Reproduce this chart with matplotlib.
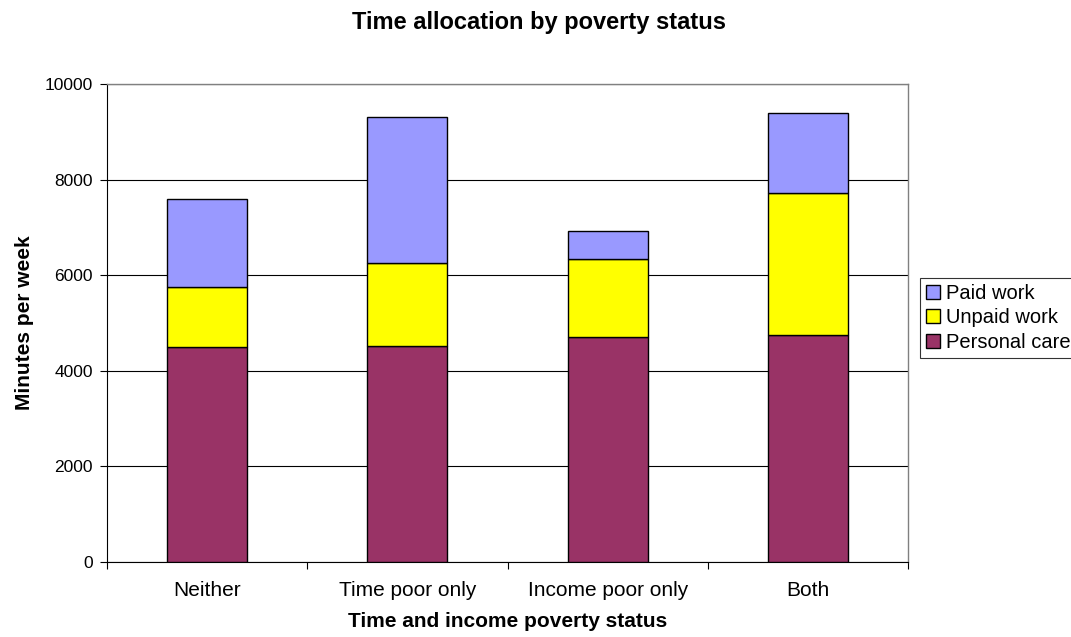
import matplotlib
matplotlib.use("Agg")
import matplotlib.pyplot as plt
import numpy as np

plt.rcParams['font.family'] = ['Liberation Sans', 'DejaVu Sans']

groups = ['Neither', 'Time poor only', 'Income poor only', 'Both']
personal_care = [4490, 4515, 4710, 4740]
unpaid_work = [1260, 1735, 1625, 2985]
paid_work = [1835, 3055, 580, 1665]

fig = plt.figure(figsize=(10.71, 6.37), dpi=100)
ax = fig.add_axes([107 / 1071, 1 - 562 / 637, 801 / 1071, 478 / 637])

x = np.arange(len(groups))
w = 0.4
pc = np.array(personal_care)
uw = np.array(unpaid_work)
pw = np.array(paid_work)

b1 = ax.bar(x, pc, w, color='#993366', edgecolor='black', linewidth=1.0, zorder=3, label='Personal care')
b2 = ax.bar(x, uw, w, bottom=pc, color='#FFFF00', edgecolor='black', linewidth=1.0, zorder=3, label='Unpaid work')
b3 = ax.bar(x, pw, w, bottom=pc + uw, color='#9999FF', edgecolor='black', linewidth=1.0, zorder=3, label='Paid work')

ax.set_xlim(-0.5, len(groups) - 0.5)
ax.set_ylim(0, 10000)
ax.set_yticks(range(0, 10001, 2000))
ax.yaxis.grid(True, color='black', linewidth=0.8, zorder=0)

# category labels centred, tick marks on the boundaries
ax.set_xticks(x)
ax.set_xticklabels(groups, fontsize=15)
ax.tick_params(axis='x', which='major', length=0, pad=14)
ax.set_xticks(np.arange(-0.5, len(groups)), minor=True)
ax.tick_params(axis='x', which='minor', length=5, width=0.8, direction='out')
ax.tick_params(axis='y', labelsize=12.5, length=5, width=0.8, pad=5)

for s in ['top', 'right']:
    ax.spines[s].set_color('#808080')
    ax.spines[s].set_linewidth(1.0)
for s in ['left', 'bottom']:
    ax.spines[s].set_color('black')
    ax.spines[s].set_linewidth(0.8)

ax.set_xlabel('Time and income poverty status', fontsize=15, fontweight='bold', labelpad=8)
ax.set_ylabel('Minutes per week', fontsize=15, fontweight='bold', labelpad=8)
fig.suptitle('Time allocation by poverty status', fontsize=17, fontweight='bold',
             x=539 / 1071, y=1 - 11 / 637, va='top')

leg = fig.legend([b3, b2, b1], ['Paid work', 'Unpaid work', 'Personal care'],
                 loc='upper left', bbox_to_anchor=(920 / 1071, 1 - 278 / 637),
                 fontsize=14.5, frameon=True, fancybox=False, edgecolor='black',
                 handlelength=0.7, handleheight=0.7, handletextpad=0.3,
                 labelspacing=0.27, borderpad=0.3, borderaxespad=0)
leg.get_frame().set_linewidth(0.8)

fig.savefig('out.png', dpi=100)
